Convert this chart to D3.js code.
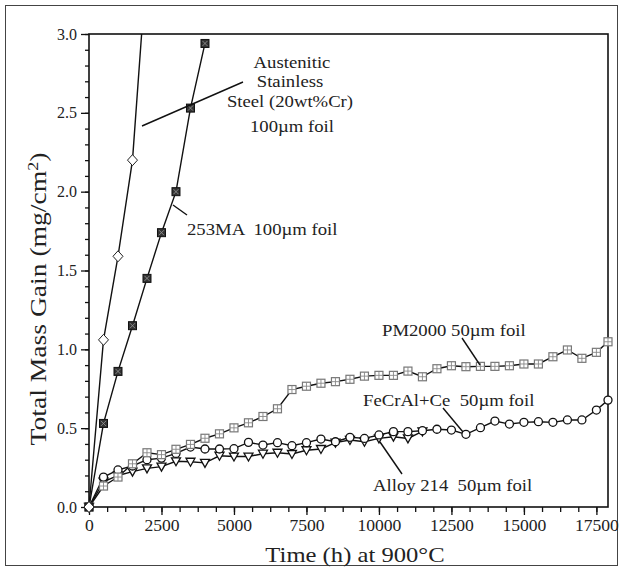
<!DOCTYPE html>
<html>
<head>
<meta charset="utf-8">
<script src="https://cdnjs.cloudflare.com/ajax/libs/d3/7.8.5/d3.min.js"></script>
<style>
    body { margin: 0; background: #fff; }
    svg { display: block; font-family: "Liberation Serif", "Times New Roman", serif; }
</style>
</head>
<body>
<div class="chart"></div>
<script>
// Austenitic stainless steel (20wt%Cr) 100um foil
var steelTime = [0, 500, 1000, 1500, 2000];
var steelGain = [0, 1.06, 1.59, 2.20, 3.47];

// 253MA 100um foil
var ma253Time = [0, 500, 1000, 1500, 2000, 2500, 3000, 3500, 4000];
var ma253Gain = [0, 0.53, 0.86, 1.15, 1.45, 1.74, 2.00, 2.53, 2.94];

// PM2000 50um foil
var pmTime = [0, 500, 1000, 1500, 2000, 2500, 3000, 3500, 4000, 4500, 5000, 5500, 6000, 6500,
    7000, 7500, 8000, 8500, 9000, 9500, 10000, 10500, 11000, 11500, 12000, 12500, 13000,
    13500, 14000, 14500, 15000, 15500, 16000, 16500, 17000, 17500, 17900];
var pmGain = [0, 0.133, 0.19, 0.274, 0.344, 0.332, 0.366, 0.397, 0.436, 0.464, 0.502, 0.534,
    0.574, 0.623, 0.745, 0.766, 0.785, 0.795, 0.81, 0.83, 0.835, 0.835, 0.862, 0.826, 0.877,
    0.896, 0.89, 0.892, 0.892, 0.896, 0.907, 0.907, 0.953, 0.996, 0.943, 0.981, 1.048];

// FeCrAl+Ce 50um foil
var fecralTime = [0, 500, 1000, 1500, 2000, 2500, 3000, 3500, 4000, 4500, 5000, 5500, 6000, 6500,
    7000, 7500, 8000, 8500, 9000, 9500, 10000, 10500, 11000, 11500, 12000, 12500, 13000,
    13500, 14000, 14500, 15000, 15500, 16000, 16500, 17000, 17500, 17900];
var fecralGain = [0, 0.19, 0.235, 0.26, 0.30, 0.31, 0.34, 0.38, 0.368, 0.368, 0.37, 0.41, 0.393,
    0.408, 0.389, 0.408, 0.431, 0.414, 0.442, 0.435, 0.457, 0.478, 0.478, 0.484, 0.493, 0.488,
    0.461, 0.503, 0.545, 0.526, 0.537, 0.541, 0.537, 0.552, 0.552, 0.615, 0.678];

// Alloy 214 50um foil
var alloyTime = [0, 500, 1000, 1500, 2000, 2500, 3000, 3500, 4000, 4500, 5000, 5500, 6000, 6500,
    7000, 7500, 8000, 8500, 9000, 9500, 10000, 10500, 11000, 11500];
var alloyGain = [0, 0.16, 0.20, 0.224, 0.245, 0.256, 0.29, 0.287, 0.28, 0.325, 0.32, 0.32, 0.338,
    0.344, 0.336, 0.36, 0.368, 0.408, 0.425, 0.414, 0.435, 0.446, 0.435, 0.48];

var xTicks = [0, 2500, 5000, 7500, 10000, 12500, 15000, 17500];
var yTicks = [0, 0.5, 1.0, 1.5, 2.0, 2.5, 3.0];

var width = 624, height = 571;
var plotL = 89, plotR = 608, plotT = 34, plotB = 507;

var svg = d3.select(".chart").append("svg")
    .attr("width", width)
    .attr("height", height);

// outer frame of the figure
svg.append("rect")
    .attr("x", 5.5).attr("y", 5.5)
    .attr("width", 612).attr("height", 560)
    .attr("fill", "none")
    .attr("stroke", "#444")
    .attr("stroke-width", 1);

var x = d3.scaleLinear().domain([0, 17900]).range([plotL, plotR]);
var y = d3.scaleLinear().domain([0, 3.0]).range([plotB, plotT]);

svg.append("clipPath").attr("id", "plot")
    .append("rect")
    .attr("x", plotL - 6).attr("y", plotT)
    .attr("width", plotR - plotL + 12).attr("height", plotB - plotT + 8);

// axes
var minorX = d3.range(0, 17900, 625);
var minorY = d3.range(0, 31).map(function (i) { return i / 10; });

svg.append("g")
    .attr("transform", "translate(0," + plotB + ")")
    .call(d3.axisBottom(x).tickValues(minorX).tickSize(5).tickFormat(""));
svg.append("g")
    .attr("transform", "translate(0," + plotB + ")")
    .attr("class", "xaxis")
    .call(d3.axisBottom(x).tickValues(xTicks).tickSize(8).tickPadding(5).tickFormat(d3.format("d")));
svg.append("g")
    .attr("transform", "translate(" + plotL + ",0)")
    .call(d3.axisLeft(y).tickValues(minorY).tickSize(4).tickFormat(""));
svg.append("g")
    .attr("transform", "translate(" + plotL + ",0)")
    .attr("class", "yaxis")
    .call(d3.axisLeft(y).tickValues(yTicks).tickSize(8).tickPadding(4).tickFormat(d3.format(".1f")));

svg.selectAll(".domain").remove();
svg.selectAll(".tick line").attr("stroke", "#111").attr("stroke-width", 1.3);
svg.selectAll(".xaxis text, .yaxis text")
    .style("font-size", "16px")
    .style("font-family", "'Liberation Serif', serif")
    .attr("fill", "#222");
svg.selectAll(".xaxis text").attr("transform", "scale(1.1,1)");

// plot box
svg.append("rect")
    .attr("x", plotL).attr("y", plotT)
    .attr("width", plotR - plotL).attr("height", plotB - plotT)
    .attr("fill", "none")
    .attr("stroke", "#111")
    .attr("stroke-width", 1.6);

var plot = svg.append("g").attr("clip-path", "url(#plot)");

var line = d3.line()
    .x(function (d) { return x(d[0]); })
    .y(function (d) { return y(d[1]); });

function pairs(t, v) {
    return t.map(function (d, i) { return [d, v[i]]; });
}

var series = [
    { pts: pairs(alloyTime, alloyGain), marker: "tri" },
    { pts: pairs(fecralTime, fecralGain), marker: "circle" },
    { pts: pairs(pmTime, pmGain), marker: "plus" },
    { pts: pairs(ma253Time, ma253Gain), marker: "dark" },
    { pts: pairs(steelTime, steelGain), marker: "diamond" }
];

series.forEach(function (s) {
    plot.append("path")
        .datum(s.pts)
        .attr("d", line)
        .attr("fill", "none")
        .attr("stroke", "#111")
        .attr("stroke-width", 1.4);
});

series.forEach(function (s) {
    var g = plot.selectAll(null)
        .data(s.pts)
        .enter()
        .append("g")
        .attr("transform", function (d) { return "translate(" + x(d[0]) + "," + y(d[1]) + ")"; });

    if (s.marker == "diamond") {
        g.append("path").attr("d", "M0,-5.5L5,0L0,5.5L-5,0Z")
            .attr("fill", "#fff").attr("stroke", "#222").attr("stroke-width", 1);
    } else if (s.marker == "dark") {
        g.append("rect").attr("x", -4).attr("y", -4).attr("width", 8).attr("height", 8)
            .attr("fill", "#333").attr("stroke", "#111").attr("stroke-width", 1);
        g.append("path").attr("d", "M-2.5,-2.5L2.5,2.5M-2.5,2.5L2.5,-2.5")
            .attr("stroke", "#999").attr("stroke-width", 0.8);
    } else if (s.marker == "plus") {
        g.append("rect").attr("x", -4).attr("y", -4).attr("width", 8).attr("height", 8)
            .attr("fill", "#fff").attr("stroke", "#777").attr("stroke-width", 1.2);
        g.append("path").attr("d", "M0,-4V4M-4,0H4")
            .attr("stroke", "#888").attr("stroke-width", 0.9);
    } else if (s.marker == "circle") {
        g.append("circle").attr("r", 4)
            .attr("fill", "#fff").attr("stroke", "#111").attr("stroke-width", 1.3);
    } else {
        g.append("path").attr("d", "M-4.5,-3.5L4.5,-3.5L0,4.5Z")
            .attr("fill", "#fff").attr("stroke", "#111").attr("stroke-width", 1.3);
    }
});

// annotations
function label(txt, tx, ty, size, anchor) {
    return svg.append("text")
        .attr("transform", "translate(" + tx + "," + ty + ") scale(1.1,1)")
        .attr("text-anchor", anchor || "start")
        .style("font-size", size + "px")
        .attr("fill", "#222")
        .text(txt);
}

function leader(x1, y1, x2, y2) {
    svg.append("line")
        .attr("x1", x1).attr("y1", y1).attr("x2", x2).attr("y2", y2)
        .attr("stroke", "#111").attr("stroke-width", 1.4);
}

label("Austenitic", 292, 68, 17, "middle");
label("Stainless", 290, 87, 17, "middle");
label("Steel (20wt%Cr)", 290, 107, 17, "middle");
label("100\u00b5m foil", 292, 132, 17, "middle");
leader(142, 126, 243, 82);

label("253MA  100\u00b5m foil", 187, 235, 17).style("white-space", "pre");
leader(173, 205, 187, 215);

label("PM2000 50\u00b5m foil", 382, 336, 17);
leader(462, 338, 480, 365);

label("FeCrAl+Ce  50\u00b5m foil", 363, 406, 17).style("white-space", "pre");
leader(443, 408, 463, 432);

label("Alloy 214  50\u00b5m foil", 373, 491, 17).style("white-space", "pre");
leader(402, 474, 380, 442);

// axis titles
svg.append("text")
    .attr("transform", "translate(355,562) scale(1.12,1)")
    .attr("text-anchor", "middle")
    .style("font-size", "22px")
    .attr("fill", "#222")
    .text("Time (h) at 900\u00b0C");

var yt = svg.append("text")
    .attr("transform", "translate(46,299) rotate(-90) scale(1.2,1)")
    .attr("text-anchor", "middle")
    .style("font-size", "23px")
    .attr("fill", "#222");
yt.append("tspan").text("Total Mass Gain (mg/cm");
yt.append("tspan").attr("baseline-shift", "super").style("font-size", "15px").text("2");
yt.append("tspan").text(")");
</script>
</body>
</html>
